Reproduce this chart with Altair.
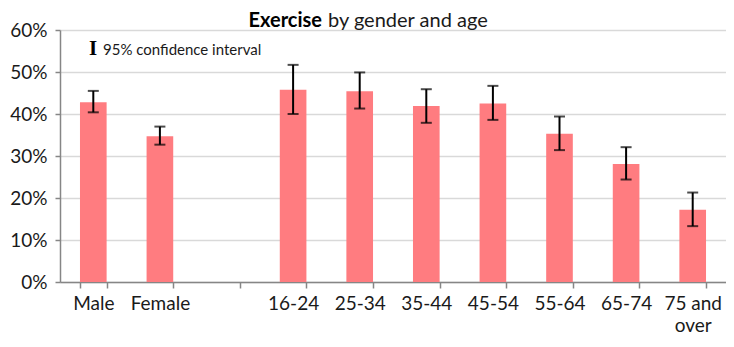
import altair as alt
import pandas as pd

# ---- data ----
categories = ["Male", "Female", "16-24", "25-34", "35-44", "45-54", "55-64", "65-74", "75 and over"]
axis_order = ["Male", "Female", "gap", "16-24", "25-34", "35-44", "45-54", "55-64", "65-74", "75 and over"]
values = [42.8, 34.7, 45.8, 45.4, 41.9, 42.5, 35.3, 28.1, 17.2]
lower = [40.4, 32.7, 40.0, 41.3, 37.9, 38.6, 31.4, 24.4, 13.3]
upper = [45.5, 37.0, 51.7, 49.9, 45.9, 46.7, 39.4, 32.1, 21.3]
y_ticks = [0, 0.1, 0.2, 0.3, 0.4, 0.5, 0.6]

df = pd.DataFrame({
    "cat": categories,
    "value": [v / 100 for v in values],
    "lo": [v / 100 for v in lower],
    "hi": [v / 100 for v in upper],
})

FONT = "Lato"
AXIS_GRAY = "#868686"
TEXT = "#1a1a1a"

x_enc = alt.X(
    "cat:N",
    sort=axis_order,
    scale=alt.Scale(domain=axis_order, paddingInner=0.6, paddingOuter=0.3),
    axis=alt.Axis(
        title=None,
        labelAngle=0,
        tickBand="extent",
        labelExpr="datum.value == 'gap' ? '' : (datum.value == '75 and over' ? ['75 and', 'over'] : datum.value)",
        labelFontSize=19,
        labelFont=FONT,
        labelColor=TEXT,
        labelPadding=6,
        labelLineHeight=22,
        labelBaseline="top",
        tickSize=6,
        tickColor=AXIS_GRAY,
        tickWidth=1.5,
        domainColor=AXIS_GRAY,
        domainWidth=1.5,
        grid=False,
    ),
)

y_enc = alt.Y(
    "value:Q",
    scale=alt.Scale(domain=[0, 0.6], nice=False),
    axis=alt.Axis(
        title=None,
        format=".0%",
        values=y_ticks,
        labelFontSize=19,
        labelFont=FONT,
        labelColor=TEXT,
        labelPadding=8,
        tickSize=5,
        tickColor=AXIS_GRAY,
        tickWidth=1.5,
        domainColor=AXIS_GRAY,
        domainWidth=1.5,
        grid=True,
        gridColor="#d9d9d9",
        gridWidth=1.5,
    ),
)

base = alt.Chart(df)

bars = base.mark_bar(color="#FF7C80").encode(x=x_enc, y=y_enc)

err_rule = base.mark_rule(color="black", strokeWidth=2).encode(
    x=alt.X("cat:N", sort=axis_order),
    y="lo:Q",
    y2="hi:Q",
)
err_lo = base.mark_tick(color="black", size=11, thickness=2).encode(
    x=alt.X("cat:N", sort=axis_order), y="lo:Q"
)
err_hi = base.mark_tick(color="black", size=11, thickness=2).encode(
    x=alt.X("cat:N", sort=axis_order), y="hi:Q"
)

title_df = pd.DataFrame({"bold": ["Exercise"], "rest": ["by gender and age"]})
title_bold = alt.Chart(title_df).mark_text(
    font=FONT, fontSize=20, fontWeight="bold", align="right", baseline="alphabetic", color="black"
).encode(text="bold:N", x=alt.value(262), y=alt.value(-3))
title_rest = alt.Chart(title_df).mark_text(
    font=FONT, fontSize=20, align="left", baseline="alphabetic", color=TEXT
).encode(text="rest:N", x=alt.value(268), y=alt.value(-3))

legend_df = pd.DataFrame({"icon": ["I"], "label": ["95% confidence interval"]})
legend_icon = alt.Chart(legend_df).mark_text(
    font="Liberation Serif", fontSize=21, fontWeight="bold", align="center", baseline="alphabetic", color="black"
).encode(text="icon:N", x=alt.value(33), y=alt.value(25))
legend_text = alt.Chart(legend_df).mark_text(
    font=FONT, fontSize=15, align="left", baseline="alphabetic", color=TEXT
).encode(text="label:N", x=alt.value(43), y=alt.value(25))

chart = alt.layer(
    bars, err_rule, err_lo, err_hi, title_bold, title_rest, legend_icon, legend_text
).properties(
    width=666,
    height=252,
    autosize=alt.AutoSizeParams(type="none"),
    padding={"left": 52, "top": 22, "right": 0, "bottom": 55},
    background="white",
).configure_view(stroke=None)

chart.save("out.html", embed_options={"renderer": "svg", "actions": False})
